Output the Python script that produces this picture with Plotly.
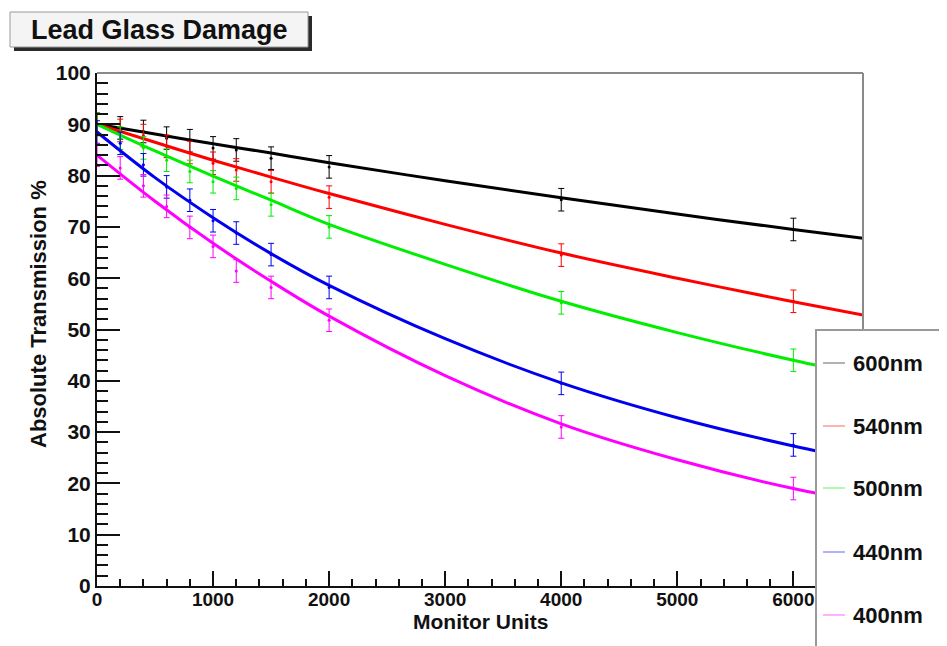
import plotly.graph_objects as go

# ---------------- data ----------------
monitor_units = [0, 200, 400, 600, 800, 1000, 1200, 1500, 2000, 4000, 6000]
series_names = ["600nm", "540nm", "500nm", "440nm", "400nm"]
series_colors = ["#000000", "#ff0000", "#00ee00", "#0000ee", "#ff00ff"]
t600 = [90, 89.3, 88.6, 87.3, 86.8, 85.4, 85.0, 83.4, 81.7, 75.3, 69.5]
t540 = [90, 88.8, 87.8, 85.7, 84.5, 82.4, 81.1, 78.8, 75.8, 64.5, 55.5]
t500 = [90, 87.3, 85.4, 83.0, 80.8, 78.8, 77.5, 74.3, 70.0, 55.2, 44.0]
t440 = [88.5, 86.3, 82.1, 77.8, 75.2, 71.2, 68.8, 64.6, 58.2, 39.5, 27.5]
t400 = [84, 81.5, 78.0, 74.0, 69.9, 66.2, 61.4, 58.2, 51.8, 31.0, 19.0]
errors = [2.2] * len(monitor_units)

fit_x = [0, 500, 1000, 1500, 2000, 3000, 4000, 5000, 6000, 6600]
fit600 = [90, 88.1, 86.2, 84.4, 82.5, 79.0, 75.7, 72.5, 69.5, 67.8]
fit540 = [90, 86.5, 83.0, 79.7, 76.5, 70.5, 64.9, 60.0, 55.4, 52.8]
fit500 = [90, 84.8, 79.9, 75.2, 70.5, 62.7, 55.5, 49.4, 44.0, 41.1]
fit440 = [88.5, 79.6, 71.8, 64.8, 58.6, 48.2, 39.6, 32.8, 27.3, 24.6]
fit400 = [84, 75.0, 66.8, 59.4, 52.6, 41.0, 31.6, 24.6, 19.0, 16.5]

series_vals = [t600, t540, t500, t440, t400]
fit_vals = [fit600, fit540, fit500, fit440, fit400]

x_range = [0, 6600]
y_range = [0, 100]

# ---------------- layout geometry (screen pixels) ----------------
W, H = 947, 646
OFF = 8  # page body margin
L, R, T, B = 97, 863, 73, 586
PW, PH = R - L, B - T


def px(x):
    return (x - L) / PW


def py(y):
    return (B - y) / PH


FONT = "Liberation Sans, Arial, sans-serif"
INK = "#111111"

fig = go.Figure()

for name, col, vals, fv in zip(series_names, series_colors, series_vals, fit_vals):
    fig.add_trace(go.Scatter(
        x=fit_x, y=fv, mode="lines", line=dict(color=col, width=3, shape="spline"),
        showlegend=False, hoverinfo="skip", name=name + " fit"))
    fig.add_trace(go.Scatter(
        x=monitor_units, y=vals, mode="markers",
        marker=dict(color=col, size=3),
        error_y=dict(type="data", array=errors, visible=True, color=col,
                     thickness=1, width=3),
        showlegend=False, name=name))

shapes = []
# top / right frame (gray)
shapes.append(dict(type="line", xref="paper", yref="paper", x0=0, x1=1, y0=1, y1=1,
                   line=dict(color="#8a8a8a", width=2), layer="above"))
shapes.append(dict(type="line", xref="paper", yref="paper", x0=1, x1=1, y0=0, y1=1,
                   line=dict(color="#8a8a8a", width=2), layer="above"))

# title box with shadow
shapes.append(dict(type="rect", xref="paper", yref="paper",
                   x0=px(14), x1=px(312), y0=py(51), y1=py(16),
                   fillcolor="#2a2a2a", line=dict(width=0), layer="above"))
shapes.append(dict(type="rect", xref="paper", yref="paper",
                   x0=px(10), x1=px(308), y0=py(47), y1=py(12),
                   fillcolor="#f4f4f4", line=dict(color="#9a9a9a", width=1), layer="above"))

# legend box
shapes.append(dict(type="rect", xref="paper", yref="paper",
                   x0=px(816), x1=px(960), y0=py(660), y1=py(330),
                   fillcolor="white", line=dict(color="#999999", width=2), layer="above"))

legend_y = [363, 426, 488, 552, 615]
annotations = []
for name, col, ly in zip(series_names, series_colors, legend_y):
    shapes.append(dict(type="line", xref="paper", yref="paper",
                       x0=px(823), x1=px(845), y0=py(ly), y1=py(ly),
                       line=dict(color=col, width=1.5), opacity=0.4, layer="above"))
    annotations.append(dict(text=name, xref="paper", yref="paper", x=px(851), y=py(ly),
                            xanchor="left", yanchor="middle", showarrow=False,
                            font=dict(family=FONT, size=22, color=INK, weight="bold")))

annotations.append(dict(text="Lead Glass Damage", xref="paper", yref="paper",
                        x=px(159), y=py(30), xanchor="center", yanchor="middle",
                        showarrow=False,
                        font=dict(family=FONT, size=27, color=INK, weight="bold")))
annotations.append(dict(text="Absolute Transmission %", xref="paper", yref="paper",
                        x=px(38), y=py(314), xanchor="center", yanchor="middle",
                        textangle=-90, showarrow=False,
                        font=dict(family=FONT, size=22, color=INK, weight="bold")))
annotations.append(dict(text="Monitor Units", xref="paper", yref="paper",
                        x=px(480), y=py(621), xanchor="center", yanchor="middle",
                        showarrow=False,
                        font=dict(family=FONT, size=21, color=INK, weight="bold")))

fig.update_layout(
    width=W, height=H,
    margin=dict(l=L - OFF, r=W - (R - OFF), t=T - OFF, b=H - (B - OFF), pad=0),
    paper_bgcolor="white", plot_bgcolor="white",
    showlegend=False,
    shapes=shapes, annotations=annotations,
    font=dict(family=FONT, color=INK),
    xaxis=dict(range=x_range, dtick=1000, tick0=0, showgrid=False, zeroline=False,
               showline=True, linecolor=INK, linewidth=2,
               ticks="inside", ticklen=15, tickwidth=1.5, tickcolor=INK,
               ticklabelstandoff=-5,
               minor=dict(dtick=200, ticks="inside", ticklen=7, tickwidth=1.5,
                          tickcolor=INK, showgrid=False),
               tickfont=dict(family=FONT, size=19, color=INK, weight="bold")),
    yaxis=dict(range=y_range, dtick=10, tick0=0, showgrid=False, zeroline=False,
               showline=True, linecolor=INK, linewidth=2,
               ticks="inside", ticklen=23, tickwidth=1.5, tickcolor=INK,
               minor=dict(dtick=2, ticks="inside", ticklen=11, tickwidth=1.5,
                          tickcolor=INK, showgrid=False),
               tickfont=dict(family=FONT, size=21, color=INK, weight="bold")),
)

fig.write_html("out.html")
